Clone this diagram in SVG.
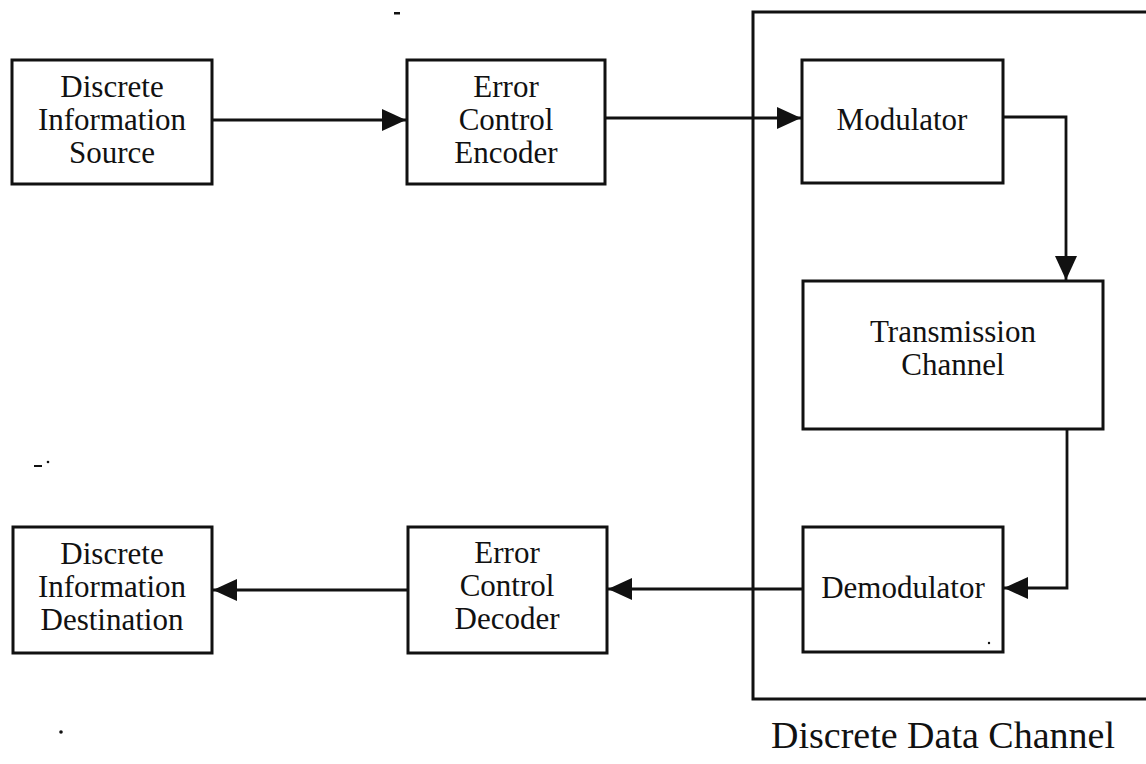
<svg xmlns="http://www.w3.org/2000/svg" width="1146" height="764" viewBox="0 0 1146 764">
  <style>
    .box { fill: #fff; stroke: #111; stroke-width: 3; }
    .t { font-family: "Liberation Serif", "Times New Roman", serif; font-size: 31px; fill: #111; text-anchor: middle; }
    .lbl { font-family: "Liberation Serif", "Times New Roman", serif; font-size: 38px; fill: #111; text-anchor: middle; }
    .conn { fill: none; stroke: #111; stroke-width: 2.8; }
    .frame { fill: none; stroke: #111; stroke-width: 3; }
  </style>
  <defs>
    <marker id="arr" markerUnits="userSpaceOnUse" markerWidth="24" markerHeight="22" refX="24" refY="11" orient="auto">
      <path d="M0,0 L24,11 L0,22 z" fill="#111"/>
    </marker>
  </defs>
  <rect width="1146" height="764" fill="#fff"/>

  <g id="data-channel">
    <path class="frame" d="M1146,12 H753 V699 H1146"/>
    <text class="lbl" x="943" y="748">Discrete Data Channel</text>
  </g>

  <g id="source">
    <rect class="box" x="12" y="60" width="200" height="124"/>
    <text class="t" x="112" y="97">Discrete</text>
    <text class="t" x="112" y="130">Information</text>
    <text class="t" x="112" y="163">Source</text>
  </g>

  <g id="encoder">
    <rect class="box" x="407" y="60" width="198" height="124"/>
    <text class="t" x="506" y="97">Error</text>
    <text class="t" x="506" y="130">Control</text>
    <text class="t" x="506" y="163">Encoder</text>
  </g>

  <g id="modulator">
    <rect class="box" x="802" y="60" width="201" height="123"/>
    <text class="t" x="902" y="130">Modulator</text>
  </g>

  <g id="transmission">
    <rect class="box" x="803" y="281" width="300" height="148"/>
    <text class="t" x="953" y="342">Transmission</text>
    <text class="t" x="953" y="375">Channel</text>
  </g>

  <g id="demodulator">
    <rect class="box" x="803" y="527" width="200" height="125"/>
    <text class="t" x="903" y="598">Demodulator</text>
  </g>

  <g id="decoder">
    <rect class="box" x="408" y="527" width="199" height="126"/>
    <text class="t" x="507" y="563">Error</text>
    <text class="t" x="507" y="596">Control</text>
    <text class="t" x="507" y="629">Decoder</text>
  </g>

  <g id="destination">
    <rect class="box" x="13" y="527" width="199" height="126"/>
    <text class="t" x="112" y="564">Discrete</text>
    <text class="t" x="112" y="597">Information</text>
    <text class="t" x="112" y="630">Destination</text>
  </g>

  <g id="connectors">
    <path class="conn" d="M212,120 H406" marker-end="url(#arr)"/>
    <path class="conn" d="M605,118 H801" marker-end="url(#arr)"/>
    <path class="conn" d="M1003,117 H1066 V280" marker-end="url(#arr)"/>
    <path class="conn" d="M1067,429 V588 H1004" marker-end="url(#arr)"/>
    <path class="conn" d="M803,589 H608" marker-end="url(#arr)"/>
    <path class="conn" d="M408,590 H213" marker-end="url(#arr)"/>
  </g>

  <g id="specks" fill="#111">
    <rect x="394" y="12" width="6" height="2.5"/>
    <rect x="34" y="465" width="8" height="2"/>
    <circle cx="48" cy="462" r="1.3"/>
    <circle cx="61" cy="732" r="1.8"/>
    <circle cx="989" cy="643" r="1.2"/>
  </g>
</svg>
